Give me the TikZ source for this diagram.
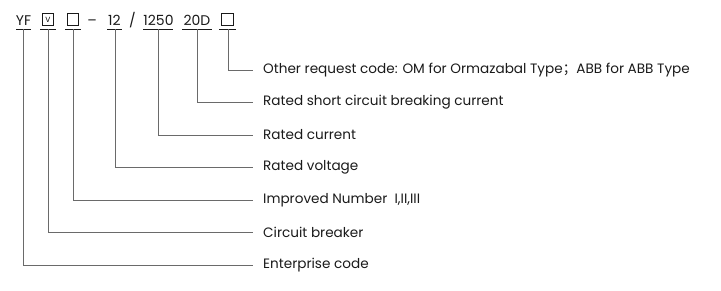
\documentclass[tikz,border=0pt]{standalone}
\usepackage{fontspec}
\setmainfont{Poppins}
\newfontfamily\cjk{Noto Sans CJK SC}
\definecolor{ln}{HTML}{6A6A6A}
\definecolor{tx}{HTML}{1A1A1A}
\begin{document}
\begin{tikzpicture}[x=1pt,y=-1pt,
  lbl/.style={anchor=west,inner sep=0pt,text=tx,font=\fontsize{13.6}{15}\selectfont},
  code/.style={anchor=base,inner sep=0pt,text=tx,font=\fontsize{14}{16}\selectfont},
  sq/.style={draw=tx,line width=0.7pt,minimum width=11.5pt,minimum height=11.5pt,inner sep=0pt},
  conn/.style={draw=ln,line width=0.8pt},
  ul/.style={draw=tx,line width=0.8pt}]
\useasboundingbox (0,0) rectangle (721,291);
% codes
\node[code] (yf) at (23.5,25.5) {YF};
\node[sq,font=\fontsize{7.5}{8}\selectfont] (v) at (48,19.5) {V};
\node[sq] (b1) at (73,19.5) {};
\node[code] (dash) at (92,25.5) {–};
\node[code] (n12) at (114.5,25.5) {12};
\node[code] (sl) at (132.5,25.5) {/};
\node[code] (n1250) at (158.5,25.5) {1250};
\node[code] (n20d) at (197,25.5) {20D};
\node[sq] (b2) at (227.5,19.5) {};
% underlines
\coordinate (u1a) at (16,29.5); \coordinate (u1b) at (31,29.5);
\coordinate (u2a) at (40,29.5); \coordinate (u2b) at (56,29.5);
\coordinate (u3a) at (65,29.5); \coordinate (u3b) at (81,29.5);
\coordinate (u4a) at (107,29.5); \coordinate (u4b) at (122,29.5);
\coordinate (u5a) at (143,29.5); \coordinate (u5b) at (173,29.5);
\coordinate (u6a) at (182,29.5); \coordinate (u6b) at (212,29.5);
\coordinate (u7a) at (219,29.5); \coordinate (u7b) at (236,29.5);
\foreach \i in {1,...,7} \draw[ul] (u\i a) -- (u\i b);
% labels
\node[lbl] (l7) at (263,70.5) {Other request code: OM for Ormazabal Type{\cjk ；}ABB for ABB Type};
\node[lbl] (l6) at (263,102.5) {Rated short circuit breaking current};
\node[lbl] (l5) at (263,135) {Rated current};
\node[lbl] (l4) at (263,167.5) {Rated voltage};
\node[lbl] (l3) at (263,200) {Improved Number\ \ I,II,III};
\node[lbl] (l2) at (263,232.5) {Circuit breaker};
\node[lbl] (l1) at (263,265) {Enterprise code};
% connectors
\coordinate (t1) at (23.5,29.5); \coordinate (t2) at (48,29.5); \coordinate (t3) at (73,29.5);
\coordinate (t4) at (115,29.5); \coordinate (t5) at (158,29.5); \coordinate (t6) at (197,29.5);
\coordinate (t7) at (228,29.5);
\foreach \i in {1,...,7}
  \draw[conn] (t\i) |- ([xshift=-10pt]l\i.west);
\end{tikzpicture}
\end{document}
